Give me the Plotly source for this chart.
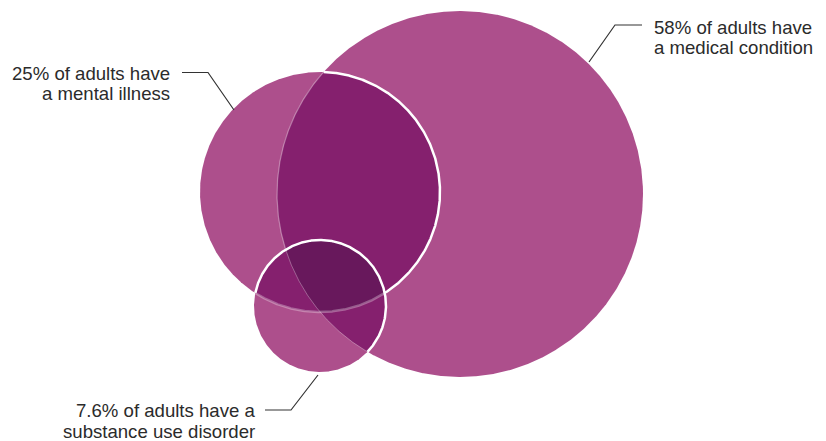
import numpy as np
import plotly.graph_objects as go

# ---- data ----
groups = ["medical", "mental", "substance"]
pct_labels = ["58%", "25%", "7.6%"]
label_line1 = ["58% of adults have", "25% of adults have", "7.6% of adults have a"]
label_line2 = ["a medical condition", "a mental illness", "substance use disorder"]
# circle geometry in page pixels (center x, center y, radius)
cx = [460, 320, 320]
cy = [194, 192, 306]
rad = [183, 120, 66]

COL1 = "#ad4f8c"
COL2 = "#85206e"
COL3 = "#68185c"
TXT = "#2b2b2b"

N = 1440
ang = np.linspace(0, 2 * np.pi, N, endpoint=False)


def pts(i):
    return cx[i] + rad[i] * np.cos(ang), cy[i] + rad[i] * np.sin(ang)


def inside(x, y, j, eps=0.0):
    return (x - cx[j]) ** 2 + (y - cy[j]) ** 2 <= (rad[j] + eps) ** 2


def intersection(idx):
    X, Y = [], []
    for i in idx:
        x, y = pts(i)
        m = np.ones_like(x, dtype=bool)
        for j in idx:
            if j != i:
                m &= inside(x, y, j, 1e-6)
        X.extend(x[m]); Y.extend(y[m])
    X = np.array(X); Y = np.array(Y)
    a = np.arctan2(Y - Y.mean(), X - X.mean())
    o = np.argsort(a)
    X = list(X[o]); Y = list(Y[o])
    return X + [X[0]], Y + [Y[0]]


def arc_inside(i, others):
    x, y = pts(i)
    m = np.zeros_like(x, dtype=bool)
    for j in others:
        m |= inside(x, y, j)
    if m.all():
        return list(x) + [x[0]], list(y) + [y[0]]
    start = np.argmin(m)  # a False index
    x = np.roll(x, -start); y = np.roll(y, -start); m = np.roll(m, -start)
    X, Y = [], []
    prev = False
    for k in range(len(x)):
        if m[k]:
            X.append(x[k]); Y.append(y[k])
        elif prev:
            X.append(None); Y.append(None)
        prev = m[k]
    return X, Y


fig = go.Figure()


def fill(xy, color):
    fig.add_trace(go.Scatter(x=xy[0], y=xy[1], mode="lines", fill="toself",
                             fillcolor=color, line=dict(width=0, color=color),
                             hoverinfo="skip", showlegend=False))


def line(xy, color, w):
    fig.add_trace(go.Scatter(x=xy[0], y=xy[1], mode="lines",
                             line=dict(width=w, color=color),
                             hoverinfo="skip", showlegend=False))


def full(i):
    x, y = pts(i)
    return list(x) + [x[0]], list(y) + [y[0]]


# medical + mental
fill(full(0), COL1)
fill(full(1), COL1)
fill(intersection([0, 1]), COL2)
line(arc_inside(0, [1]), "rgba(255,255,255,0.35)", 1.2)
line(arc_inside(1, [0]), "white", 2.5)
# substance
fill(full(2), COL1)
fill(intersection([2, 0]), COL2)
fill(intersection([2, 1]), COL2)
fill(intersection([0, 1, 2]), COL3)
# faint ghost lines inside substance circle
xa, ya = arc_inside(0, [2])
line((xa, ya), "rgba(255,255,255,0.3)", 1.0)
xa, ya = arc_inside(1, [2])
line((xa, ya), "rgba(255,255,255,0.3)", 2.5)
line(arc_inside(2, [0, 1]), "white", 2.5)

# ---- labels and leader lines ----
FONT = dict(family="Liberation Sans, Arial, Helvetica, sans-serif", size=18.6, color=TXT)
label_pos = [  # (x, y line1, y line2, anchor)
    (652, 27, 47, "left"),
    (172, 73, 93, "right"),
    (257, 410, 431, "right"),
]
leaders = [
    ([642, 615, 589], [25, 25, 62]),
    ([182, 208, 234], [72.5, 72.5, 110]),
    ([265, 291, 318], [410, 410, 375]),
]
for k in range(3):
    x, y1, y2, anc = label_pos[k]
    for yy, t in ((y1, label_line1[k]), (y2, label_line2[k])):
        fig.add_annotation(x=x, y=yy, text=t, showarrow=False, xanchor=anc,
                           yanchor="middle", font=FONT, xref="x", yref="y")
    line(leaders[k], "#333333", 1.2)

fig.update_layout(
    width=826, height=441, autosize=False,
    margin=dict(l=0, r=0, t=0, b=0),
    paper_bgcolor="white", plot_bgcolor="white",
    xaxis=dict(range=[0, 826], visible=False, fixedrange=True),
    yaxis=dict(range=[441, 0], visible=False, fixedrange=True),
    showlegend=False,
)
fig.write_html("out.html", config={"displayModeBar": False},
               post_script="document.body.style.margin='0';document.body.style.overflow='hidden';")
